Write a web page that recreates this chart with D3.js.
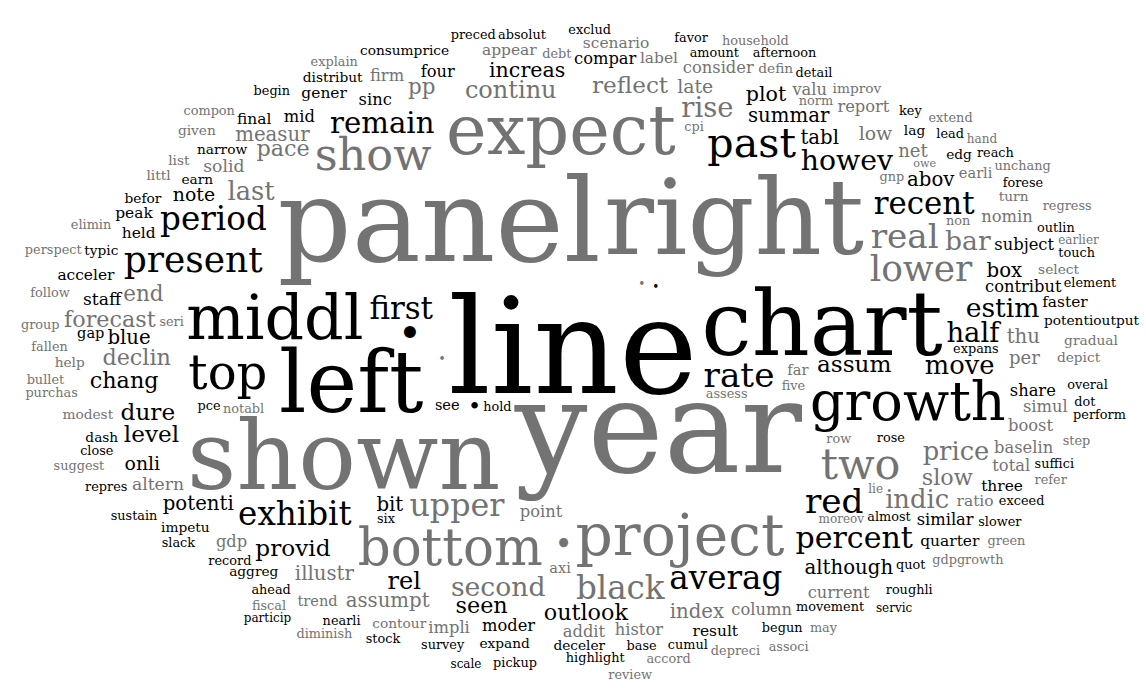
<!DOCTYPE html>
<html>
<head>
<meta charset="utf-8">
<script src="https://cdn.jsdelivr.net/npm/d3@7"></script>
<style>
body { margin: 0; background: #fff; }
svg { display: block; }
</style>
</head>
<body>
<svg id="cloud"></svg>
<script>
// word stems and their counts, split by shade
var blackWords = [
    "line", "chart", "left", "middl", "growth", "top", "past", "present", "rate", "red",
    "exhibit", "period", "averag", "first", "recent", "percent", "remain", "howev", "half", "estim",
    "move", "rel", "provid", "assum", "level", "dure", "chang", "outlook", "seen", "increas",
    "plot", "although", "potenti", "summar", "abov", "bit", "blue", "tabl", "box", "onli",
    "note", "staff", "share", "compar", "similar", "mid", "sinc", "moder", "four", "subject",
    "contribut", "three", "acceler", "held", "quarter", "faster", "peak", "gener", "final", "result",
    "see", "gap", "deceler", "earn", "lag", "distribut", "expand", "impetu", "befor", "aggreg",
    "dash", "edg", "typic", "consumprice", "potentioutput", "narrow", "movement", "begun", "cumul", "amount",
    "detail", "quot", "absolut", "begin", "record", "base", "expans", "preced", "element", "overal",
    "highlight", "suffici", "favor", "key", "exceed", "sustain", "slower", "nearli", "survey", "outlin",
    "touch", "ahead", "pce", "six", "rose", "slack", "lead", "stock", "roughli", "repres",
    "pickup", "close", "afternoon", "hold", "forese", "almost", "reach", "exclud", "perform", "dot",
    "scale", "servic", "particip", "•", "•", "•"
];
var blackCounts = [
    155, 105, 100, 72, 63, 56, 48, 42, 40, 40,
    38, 38, 38, 36, 36, 35, 34, 33, 32, 31,
    30, 28, 27, 27, 27, 27, 26, 26, 26, 24,
    24, 23, 23, 23, 23, 23, 23, 23, 23, 22,
    22, 20, 19, 19, 19, 19, 19, 19, 19, 19,
    19, 18, 18, 18, 18, 18, 18, 18, 18, 18,
    17, 17, 16, 16, 16, 16, 16, 16, 16, 16,
    16, 16, 16, 16, 16, 16, 15, 15, 15, 15,
    15, 15, 15, 15, 15, 15, 15, 15, 15, 15,
    15, 15, 15, 15, 15, 15, 15, 15, 15, 15,
    15, 15, 15, 15, 15, 15, 15, 15, 15, 15,
    15, 15, 15, 15, 15, 15, 15, 15, 15, 15,
    14, 14, 14, 48, 26, 14
];
var greyWords = [
    "year", "panel", "right", "shown", "expect", "project", "bottom", "show", "two", "lower",
    "real", "black", "upper", "rise", "second", "bar", "last", "price", "indic", "continu",
    "reflect", "declin", "forecast", "pace", "slow", "end", "pp", "illustr", "thu", "index",
    "assumpt", "measur", "late", "low", "net", "per", "solid", "altern", "consider", "boost",
    "current", "point", "nomin", "total", "baselin", "addit", "firm", "histor", "simul", "column",
    "impli", "valu", "gdp", "report", "label", "appear", "ratio", "scenario", "trend", "earli",
    "far", "axi", "turn", "modest", "help", "select", "littl", "list", "improv", "depict",
    "defin", "given", "gradual", "contour", "purchas", "row", "suggest", "bullet", "assess", "notabl",
    "accord", "household", "fallen", "regress", "five", "compon", "perspect", "gdpgrowth", "debt", "cpi",
    "elimin", "step", "explain", "group", "seri", "refer", "gnp", "non", "may", "green",
    "norm", "associ", "unchang", "fiscal", "depreci", "extend", "follow", "review", "diminish", "earlier",
    "moreov", "hand", "lie", "owe", "•", "•", "•"
];
var greyCounts = [
    150, 135, 122, 112, 80, 68, 60, 52, 50, 42,
    40, 38, 37, 32, 31, 31, 30, 30, 30, 28,
    27, 26, 26, 26, 26, 25, 25, 23, 23, 23,
    23, 23, 22, 22, 21, 21, 20, 20, 19, 19,
    19, 19, 19, 19, 19, 19, 19, 19, 19, 19,
    19, 19, 19, 19, 18, 18, 18, 18, 17, 17,
    17, 17, 16, 16, 16, 16, 16, 16, 16, 16,
    16, 16, 16, 16, 15, 15, 15, 15, 15, 15,
    15, 15, 15, 15, 15, 15, 15, 15, 15, 15,
    15, 15, 15, 15, 15, 15, 15, 15, 15, 15,
    15, 15, 15, 15, 15, 15, 15, 15, 15, 14,
    14, 14, 14, 13, 36, 14, 14
];

var width = 1146;
var height = 688;

var svg = d3.select("#cloud")
    .attr("width", width)
    .attr("height", height);

var words = [];
blackWords.forEach(function (w, i) { words.push({ text: w, n: blackCounts[i], shade: "black" }); });
greyWords.forEach(function (w, i) { words.push({ text: w, n: greyCounts[i], shade: "grey" }); });
words.sort(function (a, b) { return b.n - a.n; });

// spiral runs in unit coordinates, stretched to the page like an R device
var xScale = d3.scaleLinear().domain([0, 1]).range([0, width]);
var yScale = d3.scaleLinear().domain([0, 1]).range([0, height]);
var sizeScale = d3.scaleLinear().domain([0, 155]).range([0, 133]);
var colour = d3.scaleOrdinal().domain(["black", "grey"]).range(["#000000", "#737373"]);
var rng = d3.randomLcg(33763);

var boxes = [];
function hits(b) {
    for (var i = 0; i < boxes.length; i++) {
        var c = boxes[i];
        if (b.x0 < c.x1 && b.x1 > c.x0 && b.y0 < c.y1 && b.y1 > c.y0) return true;
    }
    return false;
}

words.forEach(function (d) {
    var fs = sizeScale(d.n);
    var t = svg.append("text")
        .attr("font-family", "'DejaVu Serif', serif")
        .attr("font-size", fs)
        .attr("fill", colour(d.shade))
        .text(d.text);
    var w = t.node().getComputedTextLength();
    var up = /[bdfhiklt]/.test(d.text) ? 0.76 : 0.55;
    var down = /[gjpqy]/.test(d.text) ? 0.24 : 0.02;
    if (d.text === "•") { up = 0.56; down = -0.15; }
    var h = (up + down) * fs;

    var theta = rng() * 2 * Math.PI;
    var r = 0;
    var placed = false;
    while (r < 0.8) {
        var cx = xScale(0.5 + r * Math.cos(theta));
        var cy = yScale(0.5 + r * Math.sin(theta));
        var b = { x0: cx - w / 2 - 1, x1: cx + w / 2 + 1, y0: cy - h / 2 - 1, y1: cy + h / 2 + 1 };
        if (b.x0 >= 0 && b.y0 >= 0 && b.x1 <= width && b.y1 <= height && !hits(b)) {
            boxes.push(b);
            t.attr("x", cx - w / 2).attr("y", cy - h / 2 + up * fs);
            placed = true;
            break;
        }
        theta += 0.1;
        r += 0.05 * 0.1 / (2 * Math.PI);
    }
    if (!placed) t.remove();
});
</script>
</body>
</html>
